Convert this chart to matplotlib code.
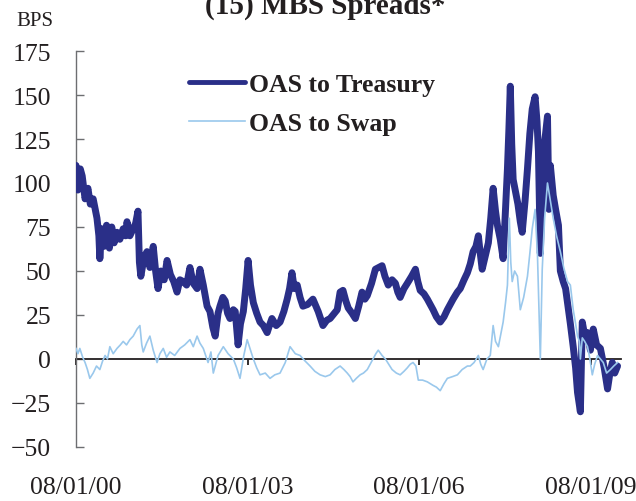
import numpy as np
import pandas as pd
import matplotlib
matplotlib.use('Agg')
import matplotlib.pyplot as plt

plt.rcParams['font.family'] = ['Liberation Serif', 'DejaVu Serif']

# --- datos (meses desde 08/01/00, puntos basicos) ---
tsy_months = [0, 0.4, 0.9, 1.3, 1.9, 2.5, 3.0, 3.6, 4.4, 4.8, 5.0, 5.4, 5.9, 6.4, 7.0, 7.5, 8.0, 8.6,
              9.2, 9.9, 10.4, 10.7, 11.3, 12.0, 12.5, 13.0, 13.3, 13.6, 14.3, 14.9, 15.5, 16.2, 16.7,
              17.2, 17.8, 18.5, 19.1, 19.8, 20.5, 21.2, 21.8, 22.5, 23.2, 23.9, 24.6, 25.4, 26.0,
              26.7, 27.5, 28.1, 28.7, 29.2, 29.8, 30.2, 30.8, 31.3, 31.8, 32.3, 33.0, 33.4, 34.0,
              34.5, 35.1, 35.6, 36.1, 36.6, 37.2, 37.9, 38.6, 39.3, 40.1, 40.7, 41.1, 42.0, 42.8,
              43.6, 44.3, 44.8, 45.3, 45.8, 46.4, 47.0, 47.6, 48.6, 49.7, 50.8, 51.8, 52.6, 53.3,
              53.9, 54.8, 55.4, 56.0, 56.6, 57.1, 57.9, 58.6, 59.3, 60.0, 60.6, 61.1, 62.0, 62.8,
              63.5, 64.2, 64.8, 65.5, 66.3, 67.0, 67.5, 68.0, 68.8, 69.5, 70.4, 71.2, 71.7, 72.2,
              73.0, 73.7, 74.3, 74.9, 75.6, 76.4, 77.2, 77.9, 78.5, 79.1, 80.0, 80.6, 81.4, 82.1,
              82.7, 83.3, 83.9, 84.4, 84.8, 85.2, 85.8, 86.5, 87.0, 87.5, 88.0, 88.4, 89.0, 89.6,
              90.0, 90.5, 90.8, 91.1, 91.4, 91.7, 92.2, 92.7, 93.2, 93.6, 94.2, 94.7, 95.2, 95.7,
              96.3, 96.7, 97.0, 97.4, 97.7, 98.0, 98.5, 98.9, 99.2, 99.5, 100.1, 100.6, 101.2,
              101.6, 102.2, 102.7, 103.1, 103.7, 104.3, 104.8, 105.2, 105.8, 106.2, 106.8, 107.3,
              107.9, 108.5, 109.2, 110.0, 110.8, 111.5, 112.0, 112.5, 113.0, 113.6]
tsy_bps = [110, 96, 108, 104, 91, 97, 88, 91, 80, 70, 57, 74, 64, 76, 63, 75, 66, 72,
           68, 74, 70, 78, 70, 74, 77, 84, 55, 47, 58, 61, 52, 64, 50,
           40, 50, 45, 56, 48, 44, 38, 45, 44, 42, 52, 43, 40, 51,
           42, 30, 27, 18, 13, 26, 30, 35, 33, 26, 23, 28, 27, 8,
           20, 27, 40, 56, 42, 32, 26, 21, 19, 15, 20, 23, 19, 21,
           27, 34, 40, 49, 40, 42, 35, 30, 31, 34, 27, 19, 22, 23,
           25, 28, 38, 39, 33, 29, 26, 23, 30, 38, 34, 36, 43, 51,
           52, 53, 47, 42, 45, 43, 38, 35, 40, 43, 47, 51, 44, 39,
           37, 34, 31, 28, 24, 21, 24, 28, 31, 34, 38, 40, 45, 49,
           54, 61, 64, 70, 60, 51, 58, 66, 80, 97, 84, 76, 68, 57,
           80, 108, 130, 155, 122, 102, 95, 88, 78, 72, 90, 108, 128, 142,
           149, 135, 118, 60, 90, 117, 128, 138, 85, 110, 93, 85, 76,
           50, 44, 40, 32, 20, 7, -5, -19, -30, 21, 12, 15,
           5, 17, 8, 6, -5, -17, -8, -2, -8, -4]

swap_months = [0, 0.4, 0.8, 1.4, 1.9, 2.4, 2.9, 3.6, 4.3, 5.0, 5.6, 6.1, 6.6, 7.1, 7.8, 8.6, 9.3,
               9.9, 10.6, 11.3, 12.0, 12.8, 13.4, 13.8, 14.1, 14.8, 15.5, 16.2, 17.0, 17.6, 18.3,
               19.0, 19.7, 20.7, 21.8, 22.8, 23.9, 24.6, 25.4, 26.0, 26.7, 27.2, 27.7, 28.3, 28.8,
               29.8, 30.9, 31.9, 33.0, 33.7, 34.4, 35.2, 35.9, 36.5, 37.2, 37.9, 38.6, 39.7, 40.7,
               41.7, 42.8, 43.9, 44.9, 46.0, 47.0, 48.0, 49.1, 50.1, 51.2, 52.3, 53.3, 54.3, 55.4,
               56.2, 56.9, 57.5, 58.1, 58.8, 59.6, 60.3, 61.1, 61.7, 62.3, 62.9, 63.4, 64.2, 64.9,
               65.6, 66.3, 67.2, 68.0, 68.8, 69.5, 70.1, 70.7, 71.3, 71.8, 72.7, 73.7, 74.3, 74.9,
               75.6, 76.4, 77.2, 77.9, 79.0, 80.0, 81.0, 82.1, 82.7, 83.5, 84.4, 84.9, 85.4, 86.2,
               86.9, 87.5, 88.0, 88.6, 89.1, 89.6, 90.1, 90.5, 90.9, 91.2, 91.5, 92.0, 92.6, 93.2,
               93.9, 94.7, 95.2, 95.7, 96.3, 96.8, 97.1, 97.4, 97.8, 98.3, 98.9, 99.5, 100.1,
               100.8, 101.6, 102.3, 103.1, 103.7, 104.3, 104.8, 105.2, 105.6, 105.8, 106.2, 106.7,
               107.3, 107.8, 108.3, 108.8, 109.4, 110.0, 110.6, 111.3, 112.1, 112.8, 113.6]
swap_bps = [6, 3, 6, 1, -2, -6, -11, -8, -4, -6, -1, 2, 0, 7, 3, 6, 8,
            10, 8, 11, 13, 17, 19, 8, 4, 9, 13, 5, -2, 3, 6,
            1, 4, 2, 6, 8, 11, 7, 13, 9, 6, 2, -2, 4, -8,
            2, 7, 3, 0, -5, -11, 2, 11, 6, 0, -5, -9, -8, -11,
            -9, -8, -2, 7, 3, 2, -1, -4, -7, -9, -10, -9, -6, -4,
            -6, -8, -10, -13, -11, -9, -8, -6, -3, 0, 3, 5, 2, 0,
            -3, -6, -8, -9, -7, -5, -3, -2, -4, -12, -12, -13, -14, -15,
            -16, -18, -14, -11, -10, -9, -6, -4, -4, -2, 2, -3, -6, 0,
            2, 19, 10, 7, 14, 21, 32, 42, 80, 55, 44, 50, 47, 28,
            35, 47, 60, 74, 85, 59, 30, 0, 51, 80, 100, 90, 80,
            70, 61, 52, 44, 42, 28, 20, 13, 10, 0, 12, 10,
            7, 0, -9, -3, 2, 0, -2, -8, -6, -4, -2]

y_ticks = [-50, -25, 0, 25, 50, 75, 100, 125, 150, 175]
tick_dates = ['2000-08-01', '2003-08-01', '2006-08-01', '2009-08-01']
tick_labels = ['08/01/00', '08/01/03', '08/01/06', '08/01/09']

start = pd.Timestamp('2000-08-01')
def to_dates(months):
    return start + pd.to_timedelta(np.array(months) * 30.4375, unit='D')

DARK = '#2a2f88'
LIGHT = '#9ac8ec'

fig = plt.figure(figsize=(6.36, 5.02), dpi=100)
ax = fig.add_axes([0.1195, 0.1076, 0.857, 0.7888])

ax.plot(to_dates(tsy_months), tsy_bps, color=DARK, lw=5, solid_joinstyle='round',
        solid_capstyle='round', label='OAS to Treasury', zorder=3)
ax.plot(to_dates(swap_months), swap_bps, color=LIGHT, lw=1.2, label='OAS to Swap', zorder=4)

ax.set_ylim(-50, 175)
ax.set_xlim(start, pd.Timestamp('2010-02-10'))
ax.set_yticks(y_ticks)
ax.set_xticks(pd.to_datetime(tick_dates))
ax.set_xticklabels(tick_labels)

for s in ['top', 'right']:
    ax.spines[s].set_visible(False)
ax.spines['left'].set_color('#6d6e71')
ax.spines['left'].set_linewidth(1.0)
ax.spines['bottom'].set_position(('data', 0))
ax.spines['bottom'].set_color('#231f20')
ax.spines['bottom'].set_linewidth(1.3)
ax.spines['bottom'].set_zorder(2)

ax.tick_params(axis='y', direction='in', length=6, width=1.0, color='#6d6e71',
               labelsize=18.5, labelcolor='#231f20', pad=18)
ax.tick_params(axis='x', direction='out', length=4, width=1.3, color='#231f20',
               labelsize=18.5, labelcolor='#231f20', pad=80)

fig.text(0.055, 1 - 22 / 502, 'BPS', fontsize=15, ha='center', va='center', color='#231f20')
fig.text(0.511, 1 - 14 / 502, '(15) MBS Spreads*', fontsize=21, fontweight='bold',
         ha='center', va='baseline', color='#231f20')

leg = ax.legend(loc='upper left', bbox_to_anchor=(176 / 636, 1 - 61 / 502),
                bbox_transform=fig.transFigure, frameon=False, borderpad=0,
                handlelength=2.2, handletextpad=0.15, labelspacing=0.62,
                prop={'size': 18.5, 'weight': 'bold'})
for t in leg.get_texts():
    t.set_color('#231f20')
leg.get_lines()[0].set_linewidth(3.5)

fig.savefig('out.png', dpi=100)
